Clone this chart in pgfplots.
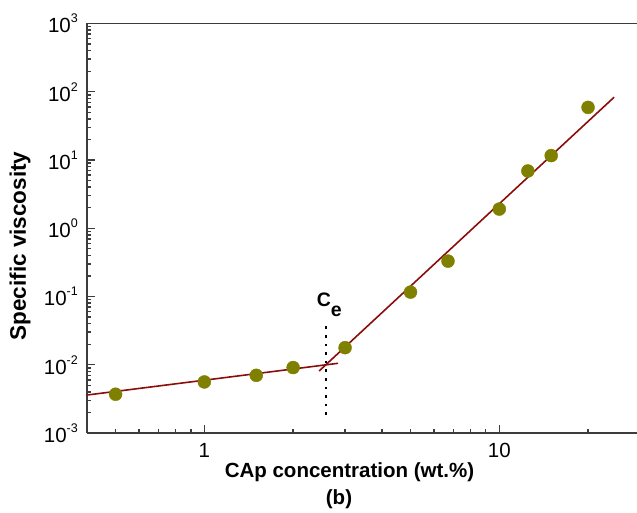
\documentclass[border=0pt]{standalone}
\usepackage{fontspec}
\setmainfont{Liberation Sans}
\usepackage{pgfplots}
\pgfplotsset{compat=1.18}
\definecolor{olivepts}{RGB}{128,128,0}
\definecolor{fitred}{RGB}{140,12,12}
\definecolor{axgray}{RGB}{60,60,60}
\newcommand{\ep}[1]{10\raisebox{10pt}{\fontsize{12.5}{12.5}\selectfont #1}}
\begin{document}
\begin{tikzpicture}
\useasboundingbox (-87pt,-80pt) rectangle (550pt,433pt);
\begin{axis}[
  at={(0pt,0pt)}, anchor=south west,
  scale only axis, width=553pt, height=409.5pt,
  xmode=log, ymode=log,
  xmin=0.4, xmax=30, ymin=1e-3, ymax=1e3,
  axis x line*=box, axis y line*=left,
  axis line style={-, line width=1.8pt, draw=axgray},
  every outer x axis line/.append style={-},
  every outer y axis line/.append style={-},
  xtick pos=left, ytick pos=left,
  tick align=inside,
  major tick length=8pt, minor tick length=4.5pt,
  tick style={line width=1.4pt, draw=axgray},
  xtick={1,10}, xticklabels={1,10},
  minor xtick={0.5,0.6,0.7,0.8,0.9,2,3,4,5,6,7,8,9,20},
  ytick={1e-3,1e-2,1e-1,1,10,100,1000},
  yticklabels={\ep{-3},\ep{-2},\ep{-1},\ep{0},\ep{1},\ep{2},\ep{3}},
  minor ytick={0.002,0.003,0.004,0.005,0.006,0.007,0.008,0.009,
    0.02,0.03,0.04,0.05,0.06,0.07,0.08,0.09,
    0.2,0.3,0.4,0.5,0.6,0.7,0.8,0.9,
    2,3,4,5,6,7,8,9,20,30,40,50,60,70,80,90,
    200,300,400,500,600,700,800,900},
  tick label style={font=\fontsize{20.5}{24}\selectfont},
  yticklabel style={inner sep=0pt, xshift=-9pt},
  xticklabel style={inner sep=0pt, yshift=-10pt},
]
\addplot[only marks, mark=*, mark size=6.5pt, mark options={draw=olivepts, fill=olivepts}]
  coordinates {(0.5,0.0037)(1.0,0.0056)(1.5,0.0070)(2.0,0.0091)(3.0,0.0178)
  (5.0,0.116)(6.7,0.33)(10,1.91)(12.5,6.9)(15,11.6)(20,59)};
\addplot[fitred, line width=1.6pt, no marks] coordinates {(0.4,0.0036)(2.84,0.0105)};
\addplot[fitred, line width=1.6pt, no marks] coordinates {(2.45,0.0081)(24.5,83)};
\addplot[black, line width=2.6pt, dash pattern=on 2.6pt off 6pt, no marks]
  coordinates {(2.585,0.00184)(2.585,0.041)};
\end{axis}
\node[anchor=base, font=\bfseries\fontsize{20.5}{24}\selectfont] at (262.5pt,-45pt) {CAp concentration (wt.\%)};
\node[anchor=base, font=\bfseries\fontsize{20.5}{24}\selectfont] at (252pt,-72pt) {(b)};
\node[anchor=base, rotate=90, font=\bfseries\fontsize{22.5}{26}\selectfont] at (-61pt,187pt) {Specific viscosity};
\node[anchor=base west, inner sep=0pt, font=\bfseries\fontsize{19.5}{24}\selectfont] at (229.7pt,126.3pt) {C\raisebox{-10pt}{e}};
\end{tikzpicture}
\end{document}
